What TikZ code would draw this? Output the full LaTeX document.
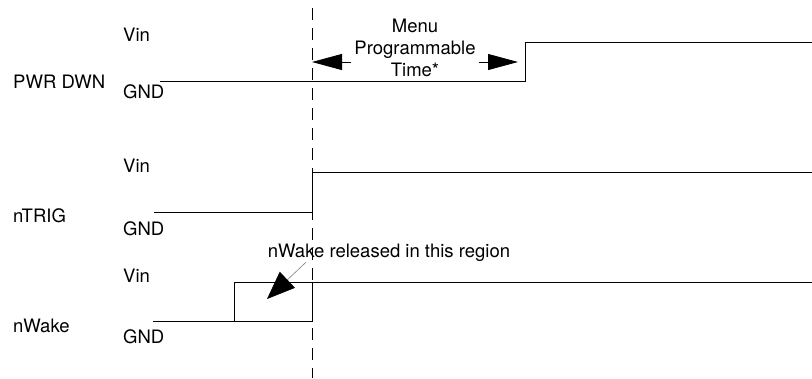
\documentclass[tikz,border=0pt]{standalone}
\usepackage{fontspec}
\setmainfont{TeX Gyre Heros}
\usetikzlibrary{arrows.meta,positioning}
\tikzset{
  signal/.style={line width=1pt},
  guide/.style={line width=0.9pt,dash pattern=on 12pt off 8pt},
  lvl/.style={anchor=base west,inner sep=0pt},
  span/.style={line width=0.8pt,-{Triangle[length=30pt,width=16pt]}},
  pointer/.style={gray,line width=0.6pt,-{Triangle[length=28pt,width=22pt,black]}},
  every node/.style={font=\fontsize{18.5}{22}\selectfont}
}

\begin{document}
\begin{tikzpicture}[x=1pt,y=-1pt]
  \useasboundingbox (0,0) rectangle (812,378);
  % signal names and levels
  \node[lvl] (pwr) at (13,88) {PWR DWN};
  \node[lvl] (pwrhi) at (123,41) {Vin};
  \node[lvl] (pwrlo) at (123,98) {GND};
  \node[lvl] (trig) at (13,222) {nTRIG};
  \node[lvl] (trighi) at (123,172) {Vin};
  \node[lvl] (triglo) at (123,235) {GND};
  \node[lvl] (wake) at (13,332) {nWake};
  \node[lvl] (wakehi) at (123,282) {Vin};
  \node[lvl] (wakelo) at (123,343) {GND};
  % waveforms
  \draw[signal] (160,81) -| (525,42) -- (812,42);
  \draw[signal] (154,212) -| (312,172) -- (812,172);
  \draw[signal] (153,321) -| (312,282);
  \draw[signal] (234,321) |- (812,282);
  % trigger instant
  \draw[guide] (312,8) -- (312,378);
  % programmable delay
  \node[align=center,inner sep=0pt] (menu) at (415,48) {Menu\\Programmable\\Time*};
  \coordinate (t0) at (312,62);
  \coordinate (t1) at (518,62);
  \draw[span] ([xshift=-3pt]menu.west |- t0) -- (t0);
  \draw[span] ([xshift=3pt]menu.east |- t1) -- (t1);
  % release window
  \node[anchor=base,inner sep=1pt] (relnote) at (389,257) {nWake released in this region};
  \coordinate (reltip) at (267,299);
  \draw[pointer] ([xshift=-83pt]relnote.south) -- (reltip);
\end{tikzpicture}
\end{document}
